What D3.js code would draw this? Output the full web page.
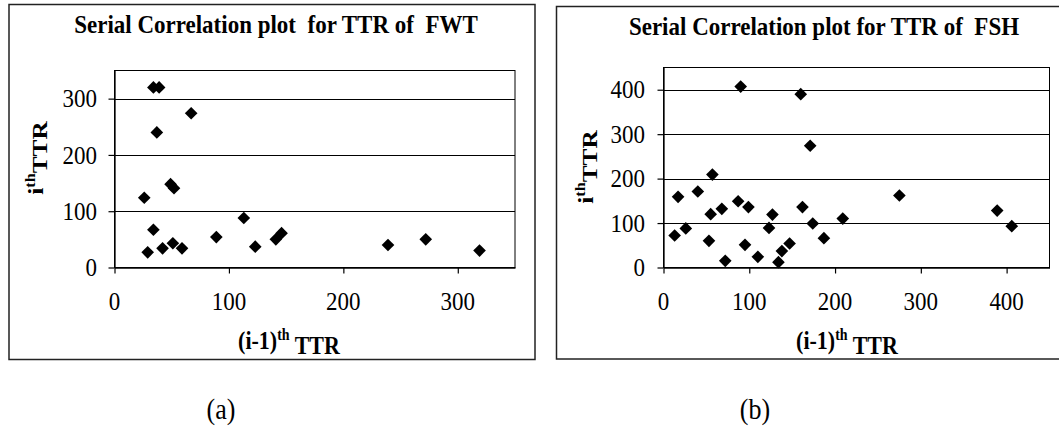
<!DOCTYPE html>
<html>
<head>
<meta charset="utf-8">
<script src="https://cdn.jsdelivr.net/npm/d3@7"></script>
<style>
  html, body { margin: 0; padding: 0; background: #fff; }
  svg { display: block; }
  text { font-family: "Liberation Serif", "Times New Roman", serif; fill: #000; }
</style>
</head>
<body>
<svg id="chart" width="1059" height="432"></svg>
<script>
// ---- Data ----
const fwtTitle = "Serial Correlation plot  for TTR of  FWT";
const fwtPrev = [34, 39, 67, 37, 26, 49, 52, 34, 29, 42, 51, 59, 89, 113, 123, 141, 146, 239, 272, 319];
const fwtCurr = [320, 320, 274, 240, 124, 148, 141, 67, 27, 34, 43, 34, 54, 88, 37, 50, 61, 40, 50, 30];
const fwtXTicks = [0, 100, 200, 300];
const fwtYTicks = [0, 100, 200, 300];

const fshTitle = "Serial Correlation plot for TTR of  FSH";
const fshPrev = [90, 160, 171, 57, 17, 40, 275, 87, 99, 162, 68, 55, 127, 389, 13, 26, 53, 123, 174, 209, 187, 406, 72, 95, 110, 134, 138, 147];
const fshCurr = [407, 390, 274, 209, 159, 171, 162, 149, 136, 136, 132, 120, 119, 128, 72, 88, 60, 89, 99, 110, 66, 93, 15, 51, 24, 12, 37, 54];
const fshXTicks = [0, 100, 200, 300, 400];
const fshYTicks = [0, 100, 200, 300, 400];

const panelLabels = ["(a)", "(b)"];

// ---- Layout ----
const svg = d3.select("#chart");
const K = 1.12; // vertical stretch of the reference's lettering

function addText(parent, x, y, opts) {
  const t = parent.append("text")
    .attr("transform", `translate(${x},${y}) scale(1,${opts.k || K})` + (opts.rotate ? " rotate(-90)" : ""))
    .attr("text-anchor", opts.anchor || "middle")
    .style("font-size", opts.size + "px")
    .style("font-weight", opts.bold ? "bold" : "normal")
    .style("white-space", "pre");
  if (opts.dy) t.attr("dy", opts.dy);
  return t;
}

const panels = [
  {
    box: {x: 9, y: 4.5, w: 526, h: 355},
    plot: {l: 114.5, r: 515, t: 70.5, b: 267.5},
    xMax: 350, yMax: 350,
    xTicks: fwtXTicks, yTicks: fwtYTicks,
    prev: fwtPrev, curr: fwtCurr,
    title: fwtTitle, titleX: 276, titleY: 33,
    yLabRight: 97,
    yTitleX: 43, yTitleY: 158,
    xTitleX: 289, xTitleY: 349,
    label: panelLabels[0], labelX: 221, labelY: 419
  },
  {
    box: {x: 556.5, y: 6.5, w: 505, h: 352.5},
    plot: {l: 663.5, r: 1049.5, t: 67.5, b: 267.5},
    xMax: 450, yMax: 450,
    xTicks: fshXTicks, yTicks: fshYTicks,
    prev: fshPrev, curr: fshCurr,
    title: fshTitle, titleX: 824, titleY: 35,
    yLabRight: 645,
    yTitleX: 593, yTitleY: 167,
    xTitleX: 847, xTitleY: 349,
    label: panelLabels[1], labelX: 755, labelY: 419
  }
];

const diamond = d3.symbol().type(d3.symbolSquare).size(80)();

panels.forEach(p => {
  const g = svg.append("g");
  // outer box
  g.append("rect")
    .attr("x", p.box.x).attr("y", p.box.y)
    .attr("width", p.box.w).attr("height", p.box.h)
    .attr("fill", "none").attr("stroke", "#222").attr("stroke-width", 1.5);

  const x = d3.scaleLinear().domain([0, p.xMax]).range([p.plot.l, p.plot.r]);
  const y = d3.scaleLinear().domain([0, p.yMax]).range([p.plot.b, p.plot.t]);

  // gridlines
  g.append("g").selectAll("line")
    .data(p.yTicks.filter(d => d > 0))
    .join("line")
    .attr("x1", p.plot.l).attr("x2", p.plot.r)
    .attr("y1", d => Math.round(y(d)) + 0.5).attr("y2", d => Math.round(y(d)) + 0.5)
    .attr("stroke", "#000").attr("stroke-width", 1);

  // plot area border
  g.append("rect")
    .attr("x", p.plot.l).attr("y", p.plot.t)
    .attr("width", p.plot.r - p.plot.l).attr("height", p.plot.b - p.plot.t)
    .attr("fill", "none").attr("stroke", "#000").attr("stroke-width", 1);

  // axes (lines and ticks from d3 axes; labels drawn below through the same scales)
  const xAxis = d3.axisBottom(x).tickValues(p.xTicks).tickSize(6).tickSizeOuter(0).tickFormat("");
  const yAxis = d3.axisLeft(y).tickValues(p.yTicks).tickSize(6).tickSizeOuter(0).tickFormat("");
  const gx = g.append("g").attr("transform", `translate(0,${p.plot.b})`).call(xAxis);
  const gy = g.append("g").attr("transform", `translate(${p.plot.l},0)`).call(yAxis);
  [gx, gy].forEach(a => {
    a.select(".domain").attr("stroke", "#000").attr("stroke-width", 1.3);
    a.selectAll(".tick line").attr("stroke", "#000").attr("stroke-width", 1.2);
    a.selectAll(".tick text").remove();
  });

  // tick labels
  p.xTicks.forEach(v => {
    addText(g, x(v), 310, {size: 23}).text(d3.format("d")(v));
  });
  p.yTicks.forEach(v => {
    addText(g, p.yLabRight, y(v), {size: 23, anchor: "end", dy: "0.34em"}).text(d3.format("d")(v));
  });

  // points
  g.append("g").selectAll("path")
    .data(p.prev.map((v, i) => [v, p.curr[i]]))
    .join("path")
    .attr("d", diamond)
    .attr("transform", d => `translate(${x(d[0])},${y(d[1])}) rotate(45)`)
    .attr("fill", "#000");

  // title
  addText(g, p.titleX, p.titleY, {size: 23, bold: true}).text(p.title);

  // y axis title
  const yt = addText(g, p.yTitleX, p.yTitleY, {size: 22, bold: true, rotate: true, k: 1.15});
  yt.append("tspan").text("i");
  yt.append("tspan").attr("dy", "-0.55em").style("font-size", "14px").text("th");
  yt.append("tspan").attr("dy", "0.55em").text("TTR");

  // x axis title
  const xt = addText(g, p.xTitleX, p.xTitleY, {size: 22, bold: true, k: 1.15});
  xt.append("tspan").text("(i-1)");
  xt.append("tspan").attr("dy", "-0.55em").style("font-size", "14px").text("th");
  xt.append("tspan").attr("dy", "0.55em").text(" TTR");

  // panel label
  addText(svg, p.labelX, p.labelY, {size: 26, k: 1.15}).text(p.label);
});
</script>
</body>
</html>
